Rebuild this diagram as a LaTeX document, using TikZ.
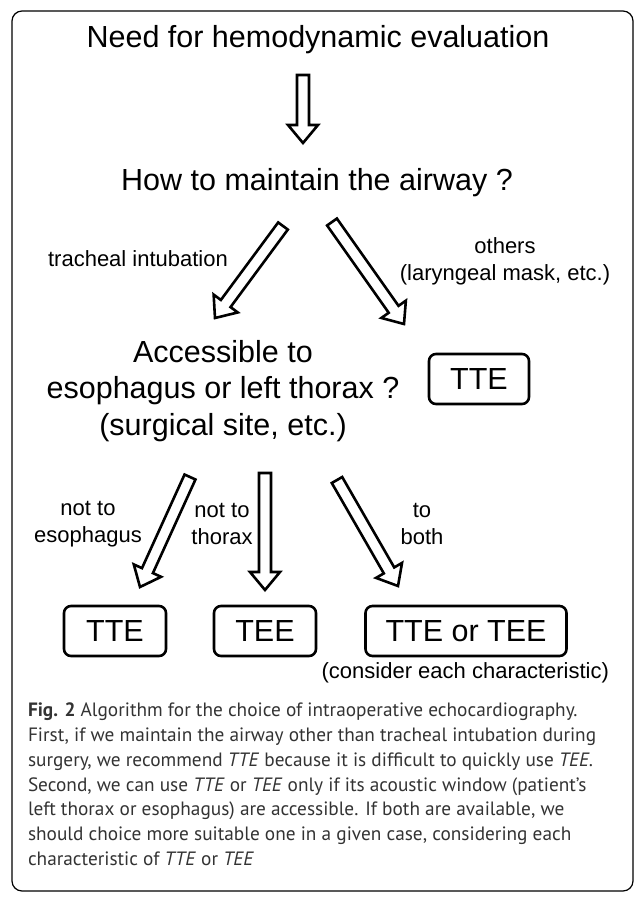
\documentclass[tikz,border=0pt]{standalone}
\usepackage{fontspec}
\setmainfont{Liberation Sans}
\newfontfamily\capfont{PT Sans}
\usepackage{tikz}
\usetikzlibrary{calc, positioning}

% hollow block arrow from #1 to #2
\newcommand{\hollowarrow}[2]{%
  \coordinate (neck) at ($(#2)!18pt!(#1)$);
  \draw[blockarrow] ($(#1)!6pt!90:(#2)$) -- ($(neck)!6pt!90:(#2)$)
    -- ($(neck)!15pt!90:(#2)$) -- (#2) -- ($(neck)!15pt!-90:(#2)$)
    -- ($(neck)!6pt!-90:(#2)$) -- ($(#1)!6pt!-90:(#2)$) -- cycle;}

\begin{document}
\begin{tikzpicture}[x=1pt, y=-1pt,
    every node/.style={inner sep=0pt, outer sep=0pt},
    big/.style={font=\fontsize{30.5}{36.5}\selectfont, align=center},
    small/.style={font=\fontsize{22}{27}\selectfont, align=center},
    choice/.style={big, draw, line width=2.6pt, rounded corners=7pt, minimum height=50pt},
    blockarrow/.style={draw, line width=2.6pt, fill=white, line join=miter}
  ]
  \useasboundingbox (0,0) rectangle (636,898);
  \draw[line width=1.2pt, rounded corners=10pt] (12,11) rectangle (633,891);

  % questions
  \node[big] (need) at (318,40) {Need for hemodynamic evaluation};
  \node[big] (airway) at (317,183) {How to maintain the airway ?};
  \node[big] (access) at (223,391) {Accessible to\\esophagus or left thorax ?\\(surgical site, etc.)};

  % answers
  \node[choice, minimum width=100pt] (tte1) at (479,379) {TTE};
  \node[choice, minimum width=102pt] (tte2) at (115,631) {TTE};
  \node[choice, minimum width=102pt] (tee) at (265,631) {TEE};
  \node[choice, minimum width=201pt] (both) at (466,631) {TTE or TEE};
  \node[small, anchor=east] (consider) at (609,673) {(consider each characteristic)};

  % arrow ends
  \coordinate (a0) at (303,75);   \coordinate (b0) at (303,143);
  \coordinate (a1) at (283,226);  \coordinate (b1) at (215,318);
  \coordinate (a2) at (332,222);  \coordinate (b2) at (404,324);
  \coordinate (a3) at (190,477);  \coordinate (b3) at (140,587);
  \coordinate (a4) at (265,473);  \coordinate (b4) at (265,590);
  \coordinate (a5) at (337,480);  \coordinate (b5) at (398,586);
  \hollowarrow{a0}{b0}
  \hollowarrow{a1}{b1}
  \hollowarrow{a2}{b2}
  \hollowarrow{a3}{b3}
  \hollowarrow{a4}{b4}
  \hollowarrow{a5}{b5}

  % arrow labels
  \node[small] (intub) at (138,259) {tracheal intubation};
  \node[small] (others) at (505,261) {others\\(laryngeal mask, etc.)};
  \node[small] (noeso) at (88,524) {not to\\esophagus};
  \node[small] (nothor) at (222,524) {not to\\thorax};
  \node[small] (tobo) at (422,524) {to\\both};

  % caption
  \node[anchor=north west, align=left, text=black!80,
    font=\capfont\fontsize{19.3}{24.8}\selectfont] (caption) at (28,703)
    {\textbf{Fig. 2} Algorithm for the choice of intraoperative echocardiography.\\
     First, if we maintain the airway other than tracheal intubation during\\
     surgery, we recommend \textit{TTE} because it is difficult to quickly use \textit{TEE}.\\
     Second, we can use \textit{TTE} or \textit{TEE} only if its acoustic window (patient’s\\
     left thorax or esophagus) are accessible. If both are available, we\\
     should choice more suitable one in a given case, considering each\\
     characteristic of \textit{TTE} or \textit{TEE}};
\end{tikzpicture}
\end{document}
